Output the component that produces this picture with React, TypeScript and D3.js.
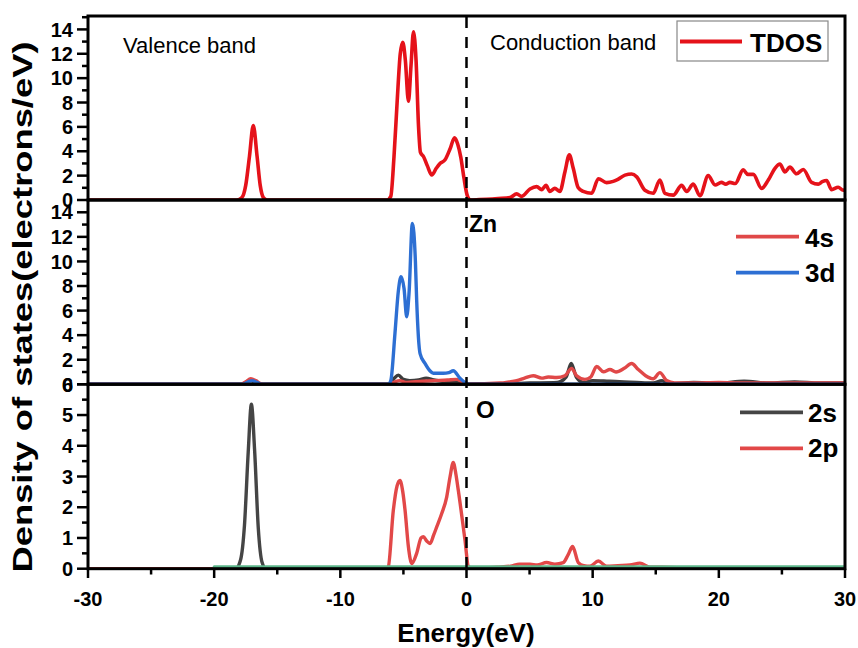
import React from "react";
import * as d3 from "d3";

type P = [number, number];

// ---------- data (energy eV, DOS) ----------
const tdos: P[] = [
  [-30, 0], [-18.2, 0], [-17.8, 0.2], [-17.5, 1.2], [-17.2, 3.6], [-16.9, 6.1], [-16.6, 3.6], [-16.35, 1.2], [-16.1, 0.2], [-15.8, 0],
  [-6.3, 0], [-6.0, 0.3], [-5.75, 3.5], [-5.5, 8.0], [-5.25, 12.0], [-5.05, 12.95], [-4.85, 11.5], [-4.6, 8.1], [-4.4, 11.0], [-4.2, 13.8],
  [-4.0, 11.5], [-3.8, 6.0], [-3.65, 3.9], [-3.4, 3.55], [-3.1, 2.8], [-2.75, 2.05], [-2.4, 2.6], [-2.1, 3.0], [-1.7, 3.3], [-1.3, 4.2],
  [-0.95, 5.1], [-0.7, 4.6], [-0.45, 3.5], [-0.2, 1.8], [0.05, 0.4], [0.3, 0],
  [1.0, 0.03], [1.6, 0.06], [2.5, 0.12], [3.45, 0.2], [3.98, 0.5], [4.37, 0.3], [5.03, 0.9], [5.56, 1.1], [5.96, 0.85], [6.3, 1.2],
  [6.6, 0.7], [7.0, 0.95], [7.4, 0.7], [7.8, 2.3], [8.15, 3.7], [8.46, 2.6], [8.86, 1.0], [9.25, 0.7], [9.92, 0.55], [10.45, 1.75],
  [11.1, 1.43], [11.63, 1.53], [12.0, 1.7], [12.56, 2.04], [13.09, 2.13], [13.49, 1.9], [14.14, 0.8], [14.8, 0.55], [15.33, 1.64],
  [15.73, 0.55], [16.39, 0.4], [17.05, 1.2], [17.45, 0.7], [17.97, 1.3], [18.5, 0.35], [19.16, 2.0], [19.7, 1.23], [20.2, 1.45],
  [20.55, 1.3], [20.88, 1.45], [21.3, 1.35], [21.93, 2.47], [22.3, 2.1], [22.73, 2.1], [23.39, 0.95], [23.92, 1.64], [24.45, 2.6],
  [24.84, 2.95], [25.24, 2.3], [25.63, 2.7], [26.16, 2.15], [26.69, 2.5], [27.35, 1.45], [27.88, 1.3], [28.2, 1.5], [28.54, 1.6],
  [28.94, 0.85], [29.46, 1.05], [29.86, 0.8], [30, 0.85],
];

const zn3d: P[] = [
  [-30, 0], [-17.8, 0], [-17.3, 0.2], [-17.0, 0.3], [-16.6, 0.15], [-16.2, 0], [-6.2, 0], [-6.0, 0.3], [-5.67, 4.15], [-5.4, 7.6],
  [-5.19, 8.76], [-4.95, 7.8], [-4.74, 5.5], [-4.55, 7.5], [-4.29, 13.1], [-4.05, 10.0], [-3.95, 6.86], [-3.68, 2.5], [-3.29, 1.7],
  [-2.9, 1.1], [-2.63, 0.9], [-1.84, 0.9], [-1.4, 0.95], [-1.05, 1.1], [-0.52, 0.5], [0, 0.08], [0.4, 0], [30, 0],
];

const zn4s: P[] = [
  [-30, 0], [-17.9, 0], [-17.5, 0.2], [-17.1, 0.45], [-16.7, 0.3], [-16.3, 0.05], [-16.0, 0], [-6.2, 0], [-5.8, 0.15], [-5.3, 0.3],
  [-4.8, 0.15], [-4.3, 0.2], [-3.5, 0.25], [-2.5, 0.3], [-1.5, 0.35], [-0.8, 0.4], [-0.3, 0.2], [0.2, 0.03], [2.65, 0.1], [3.4, 0.2],
  [3.97, 0.3], [4.6, 0.5], [5.29, 0.7], [5.96, 0.5], [6.48, 0.6], [7.14, 0.55], [7.8, 0.7], [8.33, 1.3], [8.73, 0.7], [9.39, 0.4],
  [9.85, 0.6], [10.32, 1.45], [10.85, 1.02], [11.37, 1.2], [11.85, 1.0], [12.5, 1.3], [13.09, 1.69], [13.62, 1.2], [14.2, 0.7],
  [14.8, 0.45], [15.33, 0.95], [15.86, 0.3], [16.5, 0.12], [18, 0.1], [20, 0.15], [22, 0.1], [24, 0.12], [26, 0.1], [28, 0.1], [30, 0.1],
];

const znOther: P[] = [
  [-30, 0], [-17.8, 0], [-17.2, 0.3], [-16.6, 0.1], [-16.2, 0], [-6.2, 0], [-5.8, 0.4], [-5.4, 0.75], [-5.0, 0.4], [-4.5, 0.3],
  [-3.8, 0.35], [-3.2, 0.5], [-2.6, 0.35], [-1.5, 0.2], [-0.5, 0.1], [0.3, 0], [3, 0.05], [5, 0.1], [7.2, 0.15], [7.9, 0.6],
  [8.3, 1.7], [8.7, 0.6], [9.3, 0.15], [10, 0.3], [11.3, 0.25], [12.5, 0.2], [13.5, 0.15], [14.8, 0.1], [15.5, 0.3], [16, 0.05],
  [18, 0.15], [20, 0.1], [22, 0.25], [24, 0.1], [26, 0.2], [28, 0.1], [30, 0.1],
];

const o2s: P[] = [
  [-30, 0], [-18.3, 0], [-17.9, 0.3], [-17.6, 1.4], [-17.3, 3.8], [-17.05, 5.35], [-16.8, 3.9], [-16.5, 1.3], [-16.2, 0.2], [-15.9, 0], [30, 0],
];

const o2p: P[] = [
  [-30, 0], [-6.4, 0], [-6.2, 0.06], [-5.8, 1.9], [-5.5, 2.7], [-5.27, 2.87], [-5.05, 2.5], [-4.87, 1.9], [-4.6, 0.7], [-4.34, 0.17],
  [-3.95, 0.5], [-3.6, 1.0], [-3.42, 1.04], [-3.15, 0.9], [-2.89, 0.82], [-2.6, 1.1], [-2.36, 1.36], [-1.97, 1.79], [-1.57, 2.33],
  [-1.3, 3.0], [-1.05, 3.46], [-0.85, 3.1], [-0.65, 2.55], [-0.12, 0.93], [0.15, 0.07], [0.5, 0], [2.4, 0.05], [3.5, 0.08],
  [4.2, 0.15], [5.03, 0.15], [5.6, 0.12], [6.35, 0.2], [7.0, 0.15], [7.67, 0.2], [8.05, 0.45], [8.41, 0.72], [8.86, 0.2], [9.3, 0.1],
  [9.79, 0.08], [10.45, 0.25], [11.1, 0.08], [12.0, 0.1], [12.96, 0.12], [13.75, 0.18], [14.54, 0.05], [15.5, 0.05], [16.7, 0.03],
  [17.2, 0], [30, 0],
];

const oBase: P[] = [[-20, 0.06], [-10, 0.06], [0, 0.06], [10, 0.06], [20, 0.06], [30, 0.06]];

const xMajor = [-30, -20, -10, 0, 10, 20, 30];
const xMinor = [-25, -15, -5, 5, 15, 25];

// ---------- layout ----------
const W = 858, H = 648;
const L = 88, R = 845;
const FONT = "'Liberation Sans', Arial, Helvetica, sans-serif";

const x = d3.scaleLinear().domain([-30, 30]).range([L, R]);

type Series = { data: P[]; color: string; width: number };
type Panel = {
  top: number; bottom: number; max: number;
  major: number[]; minor: number[];
  series: Series[];
};

const panels: Panel[] = [
  {
    top: 16, bottom: 200, max: 15.1,
    major: [0, 2, 4, 6, 8, 10, 12, 14], minor: [1, 3, 5, 7, 9, 11, 13, 15],
    series: [{ data: tdos, color: "#e5121a", width: 3.6 }],
  },
  {
    top: 200, bottom: 384.3, max: 15,
    major: [0, 2, 4, 6, 8, 10, 12, 14], minor: [1, 3, 5, 7, 9, 11, 13],
    series: [
      { data: znOther, color: "#3d3d3d", width: 3.4 },
      { data: zn4s, color: "#e04848", width: 3.4 },
      { data: zn3d, color: "#2d6fd3", width: 3.4 },
    ],
  },
  {
    top: 384.3, bottom: 568.7, max: 6,
    major: [0, 1, 2, 3, 4, 5, 6], minor: [0.5, 1.5, 2.5, 3.5, 4.5, 5.5],
    series: [
      { data: o2s, color: "#454545", width: 3.4 },
      { data: o2p, color: "#e24848", width: 3.4 },
      { data: oBase, color: "#5cb68a", width: 3 },
    ],
  },
];

export default function App() {
  const x0 = x(0);
  return (
    <svg width={W} height={H} style={{ position: "absolute", left: 0, top: 0, background: "#fff" }}
      fontFamily={FONT}>
      <defs>
        {panels.map((p, i) => (
          <clipPath id={`clip${i}`} key={i}>
            <rect x={L} y={p.top} width={R - L} height={p.bottom - p.top} />
          </clipPath>
        ))}
      </defs>
      {panels.map((p, i) => {
        const y = d3.scaleLinear().domain([0, p.max]).range([p.bottom, p.top]);
        const line = d3.line<P>().x(d => x(d[0])).y(d => y(d[1])).curve(d3.curveMonotoneX);
        return (
          <g key={i}>
            <g clipPath={`url(#clip${i})`}>
              {p.series.map((s, j) => (
                <path key={j} d={line(s.data) || ""} fill="none" stroke={s.color} strokeWidth={s.width}
                  strokeLinejoin="round" strokeLinecap="round" />
              ))}
            </g>
            {p.minor.filter(v => v <= p.max).map(v => (
              <line key={"mi" + v} x1={L - 6} x2={L} y1={y(v)} y2={y(v)} stroke="#000" strokeWidth={2.5} />
            ))}
            {p.major.map(v => (
              <g key={"ma" + v}>
                <line x1={L - 11} x2={L} y1={y(v)} y2={y(v)} stroke="#000" strokeWidth={2.5} />
                <text x={L - 15} y={y(v)} dy="0.36em" textAnchor="end" fontSize={20} fontWeight="bold">{v}</text>
              </g>
            ))}
          </g>
        );
      })}
      {panels.map((p, i) => (
        <rect key={"f" + i} x={L} y={p.top} width={R - L} height={p.bottom - p.top}
          fill="none" stroke="#000" strokeWidth={3} />
      ))}
      {/* x axis ticks */}
      {xMinor.map(v => (
        <line key={"xm" + v} x1={x(v)} x2={x(v)} y1={568.7} y2={574.5} stroke="#000" strokeWidth={2.5} />
      ))}
      {xMajor.map(v => (
        <g key={"xM" + v}>
          <line x1={x(v)} x2={x(v)} y1={568.7} y2={578} stroke="#000" strokeWidth={2.5} />
          <text x={x(v)} y={606} textAnchor="middle" fontSize={20} fontWeight="bold">{v}</text>
        </g>
      ))}
      {/* Fermi level */}
      <line x1={x0} x2={x0} y1={17} y2={568} stroke="#000" strokeWidth={2.5} strokeDasharray="11,9" />

      {/* annotations */}
      <text x={123} y={52.5} fontSize={22}>Valence band</text>
      <text x={490} y={50} fontSize={22}>Conduction band</text>
      <rect x={677} y={21} width={151} height={40} fill="#fff" stroke="#888" strokeWidth={1.2} />
      <line x1={680} x2={742} y1={41.5} y2={41.5} stroke="#e5121a" strokeWidth={3.8} />
      <text x={750} y={51.5} fontSize={26} fontWeight="bold">TDOS</text>

      <text x={469} y={232} fontSize={23} fontWeight="bold">Zn</text>
      <line x1={736} x2={799} y1={236.7} y2={236.7} stroke="#e04848" strokeWidth={3.8} />
      <text x={805} y={246.5} fontSize={26} fontWeight="bold">4s</text>
      <line x1={736} x2={799} y1={272.7} y2={272.7} stroke="#2d6fd3" strokeWidth={3.8} />
      <text x={805} y={282.3} fontSize={26} fontWeight="bold">3d</text>

      <text x={476} y={417.5} fontSize={24} fontWeight="bold">O</text>
      <line x1={740} x2={803} y1={412.3} y2={412.3} stroke="#454545" strokeWidth={3.8} />
      <text x={808} y={421.7} fontSize={26} fontWeight="bold">2s</text>
      <line x1={740} x2={803} y1={448.3} y2={448.3} stroke="#e24848" strokeWidth={3.8} />
      <text x={808} y={457.3} fontSize={26} fontWeight="bold">2p</text>

      {/* axis titles */}
      <text x={466} y={641.5} textAnchor="middle" fontSize={26} fontWeight="bold">Energy(eV)</text>
      <text transform="translate(32,307) rotate(-90)" textAnchor="middle" fontSize={28} fontWeight="bold"
        textLength={531} lengthAdjust="spacingAndGlyphs">Density of states(electrons/eV)</text>
    </svg>
  );
}
